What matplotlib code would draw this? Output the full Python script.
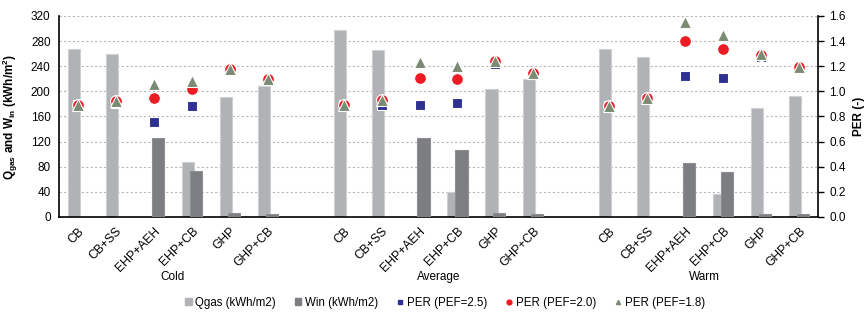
import numpy as np
from matplotlib import pyplot as plt
from matplotlib.lines import Line2D
from matplotlib.patches import Patch

plt.rcParams['font.family'] = ['Liberation Sans', 'DejaVu Sans']

# data
systems = ['CB', 'CB+SS', 'EHP+AEH', 'EHP+CB', 'GHP', 'GHP+CB']
climates = ['Cold', 'Average', 'Warm']

qgas = [268, 260, 0, 88, 191, 208,
        298, 266, 0, 39, 203, 220,
        268, 254, 0, 36, 173, 193]
win = [0, 0, 126, 74, 6, 5,
       0, 0, 126, 106, 6, 5,
       0, 0, 86, 72, 5, 4]
per_25 = [0.89, 0.91, 0.76, 0.88, 1.17, 1.10,
          0.89, 0.89, 0.89, 0.91, 1.22, 1.15,
          0.88, 0.94, 1.12, 1.11, 1.27, 1.19]
per_20 = [0.89, 0.92, 0.95, 1.02, 1.18, 1.10,
          0.89, 0.93, 1.11, 1.10, 1.24, 1.15,
          0.88, 0.95, 1.40, 1.34, 1.29, 1.19]
per_18 = [0.89, 0.92, 1.06, 1.08, 1.18, 1.10,
          0.89, 0.93, 1.23, 1.20, 1.24, 1.15,
          0.88, 0.95, 1.55, 1.45, 1.30, 1.19]


def slot_positions():
    """ category slots, one empty slot between climate groups """
    pos = []
    for g in range(len(climates)):
        for i in range(len(systems)):
            pos.append(g * (len(systems) + 1) + i)
    return np.array(pos)


def main():
    x = slot_positions()
    labels = systems * len(climates)

    fig = plt.figure(figsize=(8.66, 3.16), dpi=100)
    ax = fig.add_axes([0.0681, 0.3133, 0.8765, 0.6361])

    light = '#b1b2b5'
    dark = '#7d7e81'
    w = 0.32
    ax.bar(x - 0.105, qgas, w, color=light, edgecolor='#cfd0d2', linewidth=0.8, zorder=2)
    ax.bar(x + 0.105, win, w, color=dark, edgecolor='#8e8f92', linewidth=0.8, zorder=3)

    ax.set_xlim(-0.5, x[-1] + 0.5)
    ax.set_ylim(0, 320)
    ax.set_yticks(np.arange(0, 321, 40))
    ax.yaxis.grid(True, color='#b8b8b8', linestyle=(0, (2, 2)), linewidth=0.8)
    ax.set_axisbelow(True)
    ax.tick_params(axis='y', labelsize=8.5, length=0, pad=6)
    ax.set_xticks(x)
    ax.set_xticklabels(labels, rotation=45, ha='right', rotation_mode='anchor', fontsize=8.7)
    ax.tick_params(axis='x', length=0, pad=6)
    for side in ['top', 'right']:
        ax.spines[side].set_visible(False)
    ax.spines['left'].set_linewidth(1.2)
    ax.spines['bottom'].set_linewidth(1.2)
    ax.set_ylabel('Q$_{\\mathregular{gas}}$ and W$_{\\mathregular{in}}$ (kWh/m$^{\\mathregular{2}}$)',
                  fontsize=8.5, fontweight='bold', labelpad=8)

    # climate group labels
    for g, name in enumerate(climates):
        cx = g * (len(systems) + 1) + (len(systems) - 1) / 2
        ax.text(cx, -0.3, name, transform=ax.get_xaxis_transform(),
                ha='center', va='center', fontsize=8.5)

    ax2 = ax.twinx()
    ax2.set_ylim(0, 1.6)
    ax2.set_yticks(np.arange(0, 1.61, 0.2))
    ax2.set_yticklabels(['%.1f' % v for v in np.arange(0, 1.61, 0.2)])
    ax2.tick_params(axis='y', labelsize=8.5, length=4, width=1, pad=4)
    for side in ['top', 'left', 'bottom']:
        ax2.spines[side].set_visible(False)
    ax2.spines['right'].set_linewidth(1.2)
    ax2.set_ylabel('PER (-)', fontsize=8.5, fontweight='bold', rotation=90, labelpad=5)

    blue = '#2e3192'
    red = '#ed1c24'
    green = '#7b8a72'
    ax2.plot(x, per_25, 's', color=blue, markersize=6.5, markeredgecolor='white',
             markeredgewidth=0.8, zorder=4)
    ax2.plot(x, per_20, 'o', color=red, markersize=8.5, markeredgecolor='white',
             markeredgewidth=0.8, zorder=5)
    ax2.plot(x, per_18, '^', color=green, markersize=8.5, markeredgecolor='white',
             markeredgewidth=0.8, zorder=6)

    handles = [Patch(facecolor=light, edgecolor=light),
               Patch(facecolor=dark, edgecolor=dark),
               Line2D([], [], marker='s', color=blue, linestyle='none', markersize=3.5),
               Line2D([], [], marker='o', color=red, linestyle='none', markersize=3.5),
               Line2D([], [], marker='^', color=green, linestyle='none', markersize=3)]
    names = ['Qgas (kWh/m2)', 'Win (kWh/m2)', 'PER (PEF=2.5)', 'PER (PEF=2.0)', 'PER (PEF=1.8)']
    fig.legend(handles, names, loc='center', bbox_to_anchor=(0.514, 0.042), ncol=5,
               frameon=False, fontsize=8.3, handlelength=0.6, handleheight=0.6,
               handletextpad=0.3, columnspacing=1.6)

    fig.savefig('out.png', dpi=100)


if __name__ == '__main__':
    main()
